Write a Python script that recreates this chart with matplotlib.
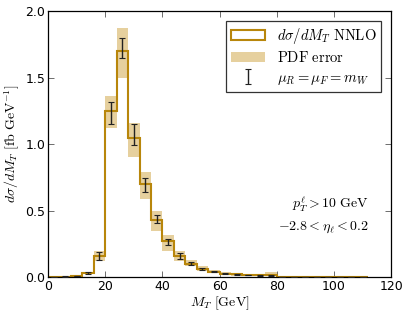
import numpy as np
import matplotlib
matplotlib.use("Agg")
import matplotlib.pyplot as plt
from matplotlib.patches import Patch, Rectangle

plt.rcParams['mathtext.fontset'] = 'cm'
plt.rcParams['font.family'] = 'DejaVu Sans'

# bin edges (GeV)
edges = [0, 4, 8, 12, 16, 20, 24, 28, 32, 36, 40, 44, 48, 52, 56, 60, 64, 68, 72, 76, 80,
         84, 88, 92, 96, 100, 104, 108, 112]
# central NNLO values (fb/GeV)
values = [0.002, 0.004, 0.01, 0.03, 0.16, 1.25, 1.70, 1.045, 0.70, 0.43, 0.27, 0.16, 0.10,
          0.06, 0.04, 0.025, 0.02, 0.016, 0.013, 0.013, 0.003, 0.002, 0.001, 0.001, 0.001,
          0.001, 0.001, 0.001]
# PDF error band
pdf_lo = [0.001, 0.002, 0.006, 0.02, 0.12, 1.12, 1.50, 0.90, 0.59, 0.35, 0.20, 0.12, 0.08,
          0.045, 0.03, 0.018, 0.012, 0.01, 0.008, 0.006, 0.001, 0.001, 0.0, 0.0, 0.0,
          0.0, 0.0, 0.0]
pdf_hi = [0.004, 0.008, 0.015, 0.04, 0.20, 1.36, 1.87, 1.16, 0.79, 0.50, 0.32, 0.20, 0.13,
          0.08, 0.055, 0.035, 0.03, 0.025, 0.02, 0.04, 0.006, 0.004, 0.002, 0.002, 0.002,
          0.002, 0.002, 0.002]
# scale variation error bars
sc_lo = [0.001, 0.003, 0.008, 0.025, 0.13, 1.15, 1.65, 0.99, 0.64, 0.41, 0.24, 0.14, 0.09,
         0.05, 0.035, 0.02, 0.016, 0.013, 0.011, 0.011, 0.002, 0.001, 0.0005, 0.0005, 0.0005,
         0.0005, 0.0005, 0.0005]
sc_hi = [0.003, 0.005, 0.012, 0.035, 0.19, 1.32, 1.80, 1.15, 0.745, 0.47, 0.29, 0.18, 0.115,
         0.07, 0.045, 0.03, 0.024, 0.019, 0.016, 0.016, 0.004, 0.003, 0.0015, 0.0015, 0.0015,
         0.0015, 0.0015, 0.0015]

gold = '#b8860b'
band = '#e6d09e'

fig = plt.figure(figsize=(4.07, 3.16), dpi=100)
ax = fig.add_axes([0.118, 0.123, 0.843, 0.842])

edges_a = np.array(edges, dtype=float)
for i in range(len(values)):
    ax.add_patch(Rectangle((edges_a[i], pdf_lo[i]), edges_a[i+1] - edges_a[i],
                           pdf_hi[i] - pdf_lo[i], facecolor=band, edgecolor='none', zorder=1))

ax.stairs(values, edges, color=gold, linewidth=1.5, zorder=2)

centers = 0.5 * (edges_a[:-1] + edges_a[1:])
mid = 0.5 * (np.array(sc_lo) + np.array(sc_hi))
err = 0.5 * (np.array(sc_hi) - np.array(sc_lo))
eb = ax.errorbar(centers, mid, yerr=err, fmt='none', ecolor='#222222', elinewidth=1.0,
                 capsize=2.5, capthick=0.8, zorder=3)

ax.set_xlim(0, 120)
ax.set_ylim(0, 2.0)
ax.set_xticks([0, 20, 40, 60, 80, 100, 120])
ax.set_yticks([0.0, 0.5, 1.0, 1.5, 2.0])
ax.tick_params(direction='in', top=True, right=True, labelsize=9, length=4, width=0.6,
               pad=2, color='#555555')
for s in ax.spines.values():
    s.set_linewidth(0.9)

ax.set_xlabel(r'$M_T\ [\mathrm{GeV}]$', fontsize=10, labelpad=1)
ax.set_ylabel(r'$d\sigma/dM_T\ [\mathrm{fb\ GeV}^{-1}]$', fontsize=10, labelpad=2)

handles = [Patch(facecolor='white', edgecolor=gold, linewidth=1.5),
           Patch(facecolor=band, edgecolor='none'),
           eb]
labels = [r'$d\sigma/dM_T\ \mathrm{NNLO}$', r'$\mathrm{PDF\ error}$', r'$\mu_R=\mu_F=m_W$']
leg = ax.legend(handles, labels, loc='upper right', fontsize=10.5, frameon=True, fancybox=False,
                borderpad=0.35, handlelength=2.3, handletextpad=0.8, labelspacing=0.3,
                bbox_to_anchor=(0.993, 0.99))
leg.get_frame().set_edgecolor('black')
leg.get_frame().set_linewidth(0.9)

ax.text(0.935, 0.272, r'$p_T^\ell>10\ \mathrm{GeV}$', transform=ax.transAxes, ha='right',
        va='center', fontsize=10)
ax.text(0.935, 0.187, r'$-2.8<\eta_\ell<0.2$', transform=ax.transAxes, ha='right',
        va='center', fontsize=10)

fig.savefig('out.png', dpi=100)
